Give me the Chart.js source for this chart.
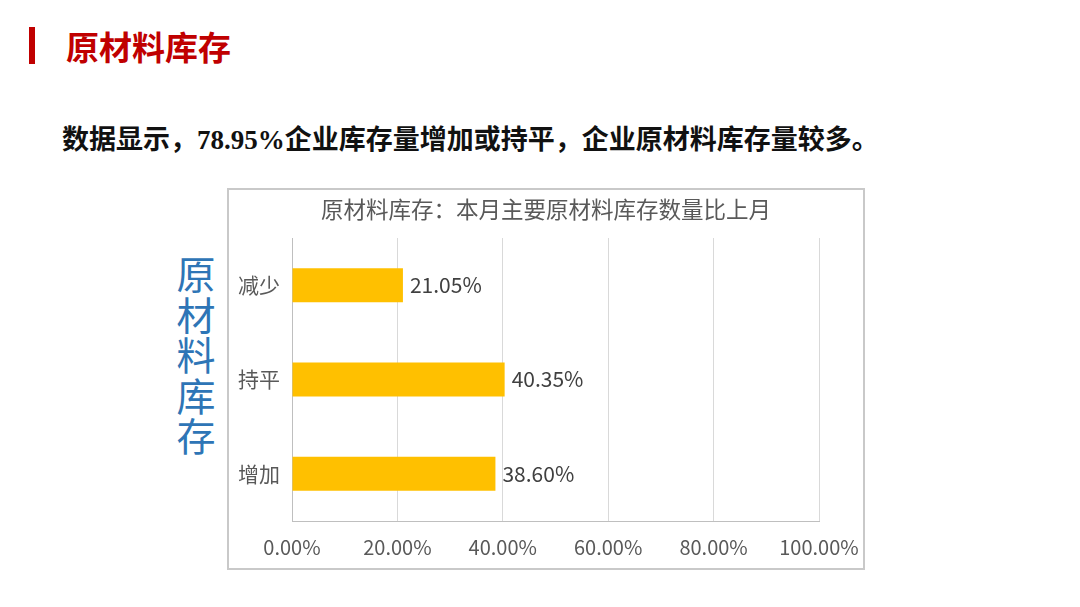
<!DOCTYPE html>
<html>
<head>
<meta charset="utf-8">
<script src="https://cdn.jsdelivr.net/npm/chart.js@4/dist/chart.umd.min.js"></script>
<style>
  body { margin: 0; width: 1080px; height: 607px; background: #fff; position: relative; overflow: hidden; font-family: "Noto Sans CJK SC", sans-serif; }
  .bar { position: absolute; left: 29px; top: 27px; width: 6px; height: 37px; background: #c00000; }
  .head { position: absolute; left: 66px; top: 24px; font-size: 33px; font-weight: bold; color: #c00000; line-height: 44px; }
  .sub { position: absolute; left: 62px; top: 121px; font-size: 27px; font-weight: bold; color: #111; line-height: 38px; font-family: "Liberation Serif", "Noto Sans CJK SC", serif; white-space: nowrap; }
  .side { position: absolute; left: 176px; top: 252px; width: 40px; font-size: 39px; line-height: 40.5px; color: #2e75b6; text-align: center; }
  .box { position: absolute; left: 227px; top: 188px; width: 638px; height: 382px; border: 2px solid #c9c9c9; box-sizing: border-box; }
  .box canvas { display: block; }
</style>
</head>
<body>
<div class="bar"></div>
<div class="head">原材料库存</div>
<div class="sub">数据显示，78.95%企业库存量增加或持平，企业原材料库存量较多。</div>
<div class="side">原<br>材<br>料<br>库<br>存</div>
<div class="box"><canvas id="chartInventario" width="634" height="378"></canvas></div>
<script>
const categorias = ['减少', '持平', '增加'];
const porcentajes = [21.05, 40.35, 38.60];
const tituloGrafico = '原材料库存：本月主要原材料库存数量比上月';
const ejeMax = 100;
const ejePaso = 20;

const fuente = '"Noto Sans CJK SC", sans-serif';

// etiquetas de valor a la derecha de cada barra
const etiquetasValor = {
  id: 'etiquetasValor',
  afterDatasetsDraw(chart) {
    const ctx = chart.ctx;
    const meta = chart.getDatasetMeta(0);
    ctx.save();
    ctx.font = '21px ' + fuente;
    ctx.fillStyle = '#404040';
    ctx.textBaseline = 'middle';
    ctx.textAlign = 'left';
    meta.data.forEach((bar, i) => {
      ctx.fillText(porcentajes[i].toFixed(2) + '%', bar.x + 7, bar.y);
    });
    ctx.restore();
  }
};

const ctxInventario = document.getElementById('chartInventario');

new Chart(ctxInventario, {
  type: 'bar',
  data: {
    labels: categorias,
    datasets: [{
      data: porcentajes,
      backgroundColor: '#ffc000',
      borderWidth: 0,
      categoryPercentage: 1,
      barPercentage: 0.36
    }]
  },
  options: {
    indexAxis: 'y',
    responsive: false,
    animation: false,
    layout: { padding: 0 },
    plugins: {
      legend: { display: false },
      tooltip: { enabled: false },
      title: {
        display: true,
        text: tituloGrafico,
        color: '#595959',
        font: { family: fuente, size: 22.5, weight: 'normal' },
        padding: { top: 6, bottom: 15 }
      }
    },
    scales: {
      x: {
        min: 0,
        max: ejeMax,
        afterFit: s => { s.height = 47; s.paddingRight = 44; },
        ticks: {
          stepSize: ejePaso,
          padding: 14,
          color: '#595959',
          font: { family: fuente, size: 20 },
          callback: v => v.toFixed(2) + '%'
        },
        grid: { color: '#d9d9d9', lineWidth: 1, drawTicks: false },
        border: { display: true, color: '#bfbfbf', width: 1 }
      },
      y: {
        afterFit: s => { s.width = 63; },
        ticks: {
          padding: 12,
          color: '#595959',
          font: { family: fuente, size: 21 }
        },
        grid: { display: false, drawTicks: false },
        border: { display: true, color: '#bfbfbf', width: 1 }
      }
    }
  },
  plugins: [etiquetasValor]
});
</script>
</body>
</html>
